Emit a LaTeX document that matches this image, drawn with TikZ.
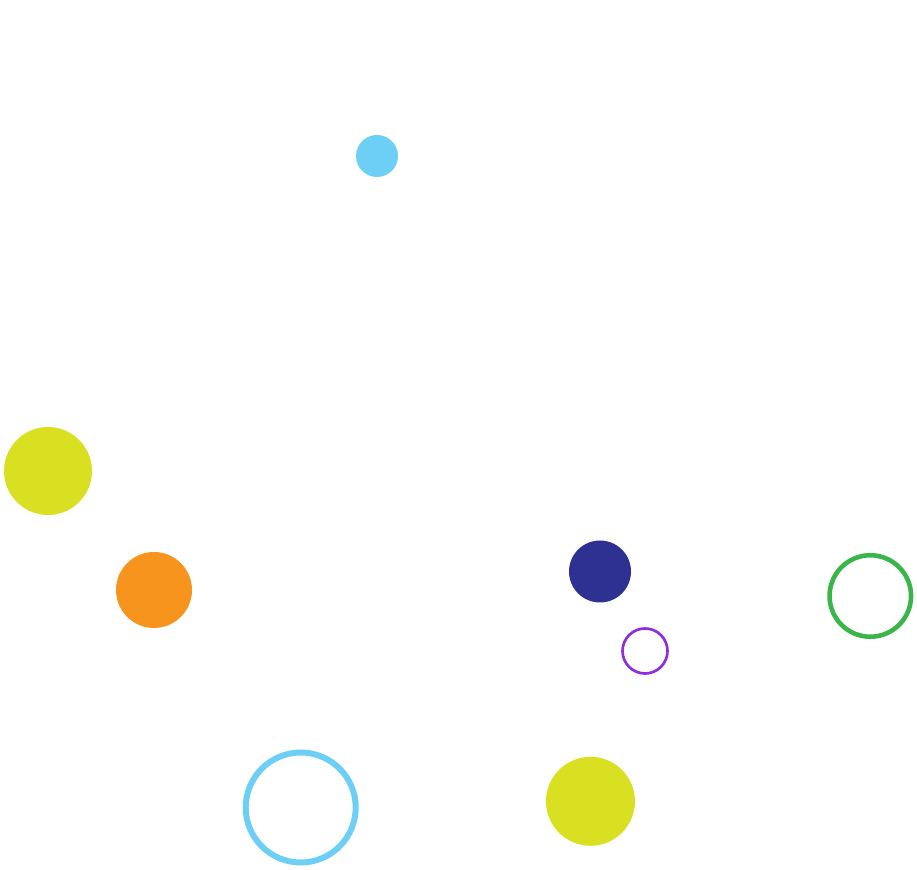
\documentclass[tikz,border=0pt]{standalone}
\usepackage{tikz}
\definecolor{skyblue}{HTML}{6DCFF6}
\definecolor{lime}{HTML}{D9E021}
\definecolor{tangerine}{HTML}{F7941D}
\definecolor{navy}{HTML}{2E3192}
\definecolor{violet}{HTML}{8E2DE2}
\definecolor{leaf}{HTML}{39B54A}
\begin{document}
\begin{tikzpicture}[x=1pt,y=1pt,
		dot/.style={circle,inner sep=0pt,minimum size=#1},
		ring/.style={circle,draw,inner sep=0pt,minimum size=#1}]
		\useasboundingbox (0,0) rectangle (917,869);
		\node[dot=42,fill=skyblue] (d1) at (377,713) {};
		\node[dot=88,fill=lime] (d2) at (48,398) {};
		\node[dot=76,fill=tangerine] (d3) at (154,279) {};
		\node[dot=62,fill=navy] (d4) at (600,297.5) {};
		\node[dot=89,fill=lime] (d5) at (590.5,67.7) {};
		\node[ring=45,draw=violet,line width=2.7pt] (r1) at (645,218) {};
		\node[ring=81.5,draw=leaf,line width=4.6pt] (r2) at (870.3,273) {};
		\node[ring=110,draw=skyblue,line width=6pt] (r3) at (300.7,61.5) {};
	\end{tikzpicture}
\end{document}
